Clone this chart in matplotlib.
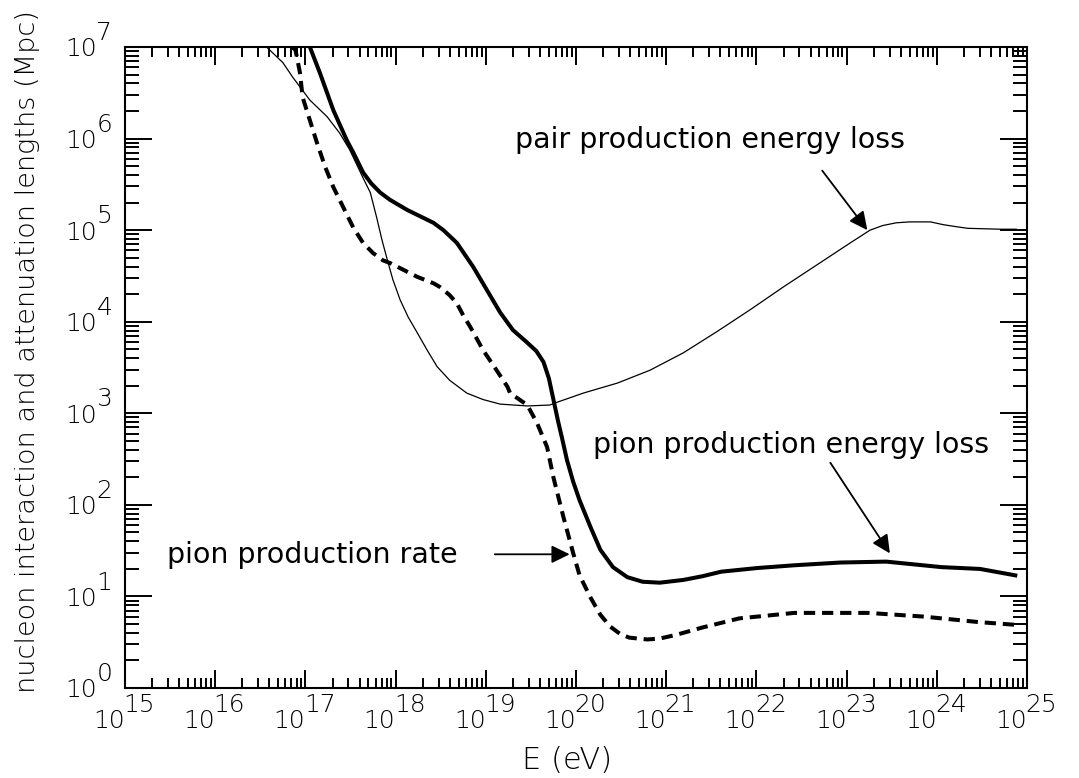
import numpy as np
import matplotlib
matplotlib.use("Agg")
import matplotlib.pyplot as plt
from matplotlib.ticker import FixedLocator, LogLocator, NullFormatter, FixedFormatter
from matplotlib.font_manager import FontProperties

# values, stored as log10(E / eV) and log10(length / Mpc)
pair_logE = [16.57, 16.75, 16.86, 17.05, 17.24, 17.38, 17.49, 17.64, 17.72,
             17.79, 17.85, 17.91, 17.97, 18.05, 18.14, 18.24, 18.35, 18.46, 18.60,
             18.79, 18.97, 19.16, 19.46, 19.71, 19.79, 20.08, 20.46, 20.82, 21.19,
             21.56, 21.93, 22.30, 22.67, 23.04, 23.26, 23.40, 23.55, 23.70, 23.93,
             24.07, 24.20, 24.34, 24.70, 24.88]
pair_logL = [7.00, 6.83, 6.67, 6.42, 6.24, 6.06, 5.88, 5.57, 5.41,
             5.14, 4.89, 4.67, 4.46, 4.24, 4.05, 3.88, 3.69, 3.51, 3.36,
             3.22, 3.15, 3.10, 3.08, 3.09, 3.12, 3.22, 3.33, 3.47, 3.66,
             3.89, 4.13, 4.38, 4.62, 4.86, 5.00, 5.05, 5.08, 5.09, 5.09,
             5.06, 5.04, 5.02, 5.01, 5.01]

loss_logE = [17.05, 17.16, 17.31, 17.46, 17.53, 17.64, 17.73, 17.83, 17.94, 18.13,
             18.42, 18.53, 18.68, 18.86, 19.01, 19.16, 19.30, 19.45, 19.56, 19.64,
             19.70, 19.75, 19.80, 19.85, 19.90, 19.97, 20.04, 20.16, 20.27, 20.41,
             20.57, 20.74, 20.93, 21.19, 21.40, 21.61, 22.01, 22.42, 22.93, 23.44,
             24.05, 24.48, 24.87]
loss_logL = [7.00, 6.72, 6.31, 5.98, 5.85, 5.63, 5.51, 5.41, 5.33, 5.22,
             5.08, 5.00, 4.86, 4.60, 4.35, 4.10, 3.91, 3.78, 3.68, 3.56,
             3.38, 3.15, 2.92, 2.71, 2.49, 2.25, 2.05, 1.76, 1.51, 1.32,
             1.21, 1.16, 1.15, 1.18, 1.22, 1.27, 1.31, 1.34, 1.37, 1.38,
             1.32, 1.30, 1.23]

rate_logE = [16.85, 16.89, 16.94, 16.97, 17.05, 17.13, 17.22, 17.31, 17.42, 17.53,
             17.64, 17.75, 17.86, 17.94, 18.24, 18.42, 18.49, 18.60, 18.68, 18.75,
             18.83, 18.97, 19.12, 19.24, 19.27, 19.46, 19.57, 19.68, 19.75, 19.86,
             19.97, 20.04, 20.16, 20.27, 20.38, 20.49, 20.59, 20.79, 20.93, 21.11,
             21.40, 21.81, 22.42, 23.24, 23.85, 24.46, 24.87]
rate_logL = [7.00, 6.97, 6.72, 6.45, 6.20, 5.95, 5.69, 5.47, 5.25, 5.03,
             4.86, 4.75, 4.67, 4.64, 4.49, 4.42, 4.38, 4.29, 4.20, 4.07,
             3.94, 3.69, 3.47, 3.29, 3.22, 3.09, 2.89, 2.63, 2.30, 1.87,
             1.47, 1.23, 0.99, 0.80, 0.67, 0.59, 0.55, 0.53, 0.54, 0.58,
             0.66, 0.76, 0.82, 0.82, 0.78, 0.72, 0.69]

x_decades = list(range(15, 26))
y_decades = list(range(0, 8))

tick_font = dict(family="DejaVu Sans", size=18, weight="light")
note_font = dict(family="DejaVu Sans", size=20.5)

fig = plt.figure(figsize=(10.79, 7.78), dpi=100)
ax = fig.add_axes([0.1158, 0.1157, 0.836, 0.8239])

ax.plot(10 ** np.array(pair_logE), 10 ** np.array(pair_logL), color="black", lw=0.9)
ax.plot(10 ** np.array(loss_logE), 10 ** np.array(loss_logL), color="black", lw=2.9,
        solid_joinstyle="round")
ax.plot(10 ** np.array(rate_logE), 10 ** np.array(rate_logL), color="black", lw=2.9,
        dashes=(2.8, 1.7), dash_capstyle="butt")

ax.set_xscale("log")
ax.set_yscale("log")
ax.set_xlim(1e15, 1e25)
ax.set_ylim(1, 1e7)

# ticks: inward on all four sides, IDL style
ax.xaxis.set_major_locator(FixedLocator([10.0 ** d for d in x_decades]))
ax.yaxis.set_major_locator(FixedLocator([10.0 ** d for d in y_decades]))
ax.xaxis.set_minor_locator(LogLocator(base=10, subs=np.arange(2, 10), numticks=100))
ax.yaxis.set_minor_locator(LogLocator(base=10, subs=np.arange(2, 10), numticks=100))
ax.xaxis.set_major_formatter(FixedFormatter(["10"] * len(x_decades)))
ax.yaxis.set_major_formatter(FixedFormatter(["10"] * len(y_decades)))
ax.xaxis.set_minor_formatter(NullFormatter())
ax.yaxis.set_minor_formatter(NullFormatter())

ax.tick_params(which="both", direction="in", top=True, right=True, width=1.4,
               colors="black")
ax.tick_params(axis="x", which="major", length=13, pad=24)
ax.tick_params(axis="x", which="minor", length=7.2)
ax.tick_params(axis="y", which="major", length=19.5, pad=20)
ax.tick_params(axis="y", which="minor", length=10)
for sp in ax.spines.values():
    sp.set_linewidth(1.5)

for lab in ax.get_xticklabels():
    lab.set_fontproperties(FontProperties(**tick_font))
    lab.set_ha("right")
    lab.set_va("center")
for lab in ax.get_yticklabels():
    lab.set_fontproperties(FontProperties(**tick_font))

# exponents of the tick labels
for d in x_decades:
    ax.annotate(str(d), xy=(10.0 ** d, 0), xycoords=("data", "axes fraction"),
                xytext=(-1, -12.5), textcoords="offset points",
                ha="left", va="center", fontproperties=FontProperties(**tick_font))
for d in y_decades:
    ax.annotate(str(d), xy=(0, 10.0 ** d), xycoords=("axes fraction", "data"),
                xytext=(-20.5, 10), textcoords="offset points",
                ha="left", va="center", fontproperties=FontProperties(**tick_font))

ax.set_xlabel("E (eV)", fontsize=22, family="DejaVu Sans", weight="light")
ax.xaxis.set_label_coords(0.49, -0.09)
ax.set_ylabel("nucleon interaction and attenuation lengths (Mpc)", fontsize=19.5,
              family="DejaVu Sans", weight="light")
ax.yaxis.set_label_coords(-0.094, 0.525)

# annotations
arrow = dict(arrowstyle="-|>,head_length=0.55,head_width=0.27", color="black",
             lw=1.3, shrinkA=0, shrinkB=0, mutation_scale=20)
ax.text(10 ** 19.32, 10 ** 5.90, "pair production energy loss", **note_font)
ax.annotate("", xy=(10 ** 23.23, 10 ** 5.0), xytext=(10 ** 22.73, 10 ** 5.65),
            arrowprops=arrow)
ax.text(10 ** 20.19, 10 ** 2.57, "pion production energy loss", **note_font)
ax.annotate("", xy=(10 ** 23.48, 10 ** 1.47), xytext=(10 ** 22.82, 10 ** 2.46),
            arrowprops=arrow)
ax.text(10 ** 15.47, 10 ** 1.37, "pion production rate", **note_font)
ax.annotate("", xy=(10 ** 19.93, 10 ** 1.46), xytext=(10 ** 19.10, 10 ** 1.46),
            arrowprops=arrow)

fig.savefig("out.png", dpi=100)
